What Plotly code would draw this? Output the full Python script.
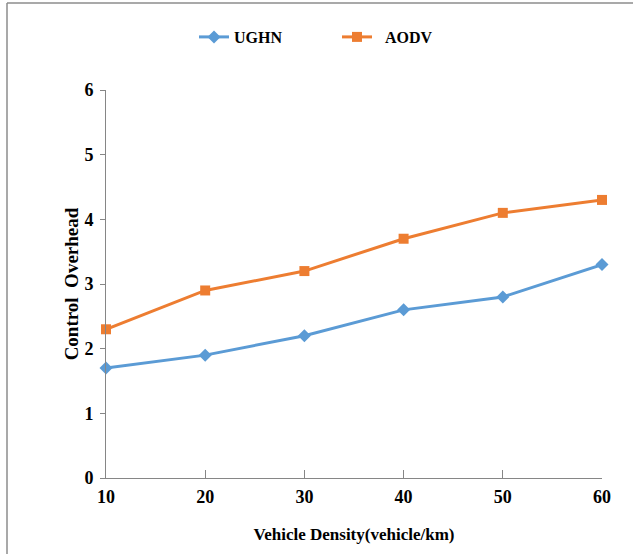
import plotly.graph_objects as go

# Vehicle density (vehicle/km) and control overhead per protocol
density = [10, 20, 30, 40, 50, 60]
ughn = [1.7, 1.9, 2.2, 2.6, 2.8, 3.3]
aodv = [2.3, 2.9, 3.2, 3.7, 4.1, 4.3]
y_ticks = [0, 1, 2, 3, 4, 5, 6]

BLUE = "#5B9BD5"
ORANGE = "#ED7D31"
AXIS = "#868686"
FONT = "Liberation Serif"

fig = go.Figure()
fig.add_trace(go.Scatter(
    x=density, y=ughn, name="UGHN", mode="lines+markers",
    line=dict(color=BLUE, width=3),
    marker=dict(symbol="diamond", size=10, color=BLUE),
    cliponaxis=False, legend="legend",
))
fig.add_trace(go.Scatter(
    x=density, y=aodv, name="\u00a0\u00a0AODV", mode="lines+markers",
    line=dict(color=ORANGE, width=3),
    marker=dict(symbol="square", size=10, color=ORANGE),
    cliponaxis=False, legend="legend2",
))

legend_common = dict(
    orientation="h", yanchor="middle", xanchor="left",
    font=dict(family=FONT, size=16, color="black", weight="bold"),
    bgcolor="rgba(0,0,0,0)", itemwidth=30,
)

fig.update_layout(
    width=633, height=554,
    margin=dict(l=106, r=31, t=90, b=76),
    paper_bgcolor="white", plot_bgcolor="white",
    font=dict(family=FONT, size=16, color="black", weight="bold"),
    showlegend=True,
    legend=dict(x=(194 - 106) / 496, y=1 + (90 - 37) / 388, **legend_common),
    legend2=dict(x=(337 - 106) / 496, y=1 + (90 - 37) / 388, **legend_common),
    xaxis=dict(
        range=[10, 60], tickvals=density, ticks="inside", ticklen=8,
        tickcolor=AXIS, showline=True, linecolor=AXIS, linewidth=1,
        showgrid=False, zeroline=False, ticklabelstandoff=2,
        tickfont=dict(family=FONT, size=18, weight="bold"),
        title=dict(text="Vehicle Density(vehicle/km)",
                   font=dict(family=FONT, size=17, weight="bold"), standoff=22),
    ),
    yaxis=dict(
        range=[0, 6], tickvals=y_ticks, ticks="outside", ticklen=5,
        tickcolor=AXIS, showline=True, linecolor=AXIS, linewidth=1,
        showgrid=False, zeroline=False, ticklabelstandoff=3,
        tickfont=dict(family=FONT, size=18, weight="bold"),
        title=dict(text="Control  Overhead",
                   font=dict(family=FONT, size=19, weight="bold"), standoff=0),
    ),
)

# outer frame: top and left edges
fig.add_shape(type="line", xref="paper", yref="paper",
              x0=-99 / 496, x1=527 / 496, y0=1 + 87 / 388, y1=1 + 87 / 388,
              line=dict(color="#8c8c8c", width=1.5))
fig.add_shape(type="line", xref="paper", yref="paper",
              x0=-99 / 496, x1=-99 / 496, y0=1 + 87 / 388, y1=-80 / 388,
              line=dict(color="#8c8c8c", width=1.5))

fig.write_html("out.html")
